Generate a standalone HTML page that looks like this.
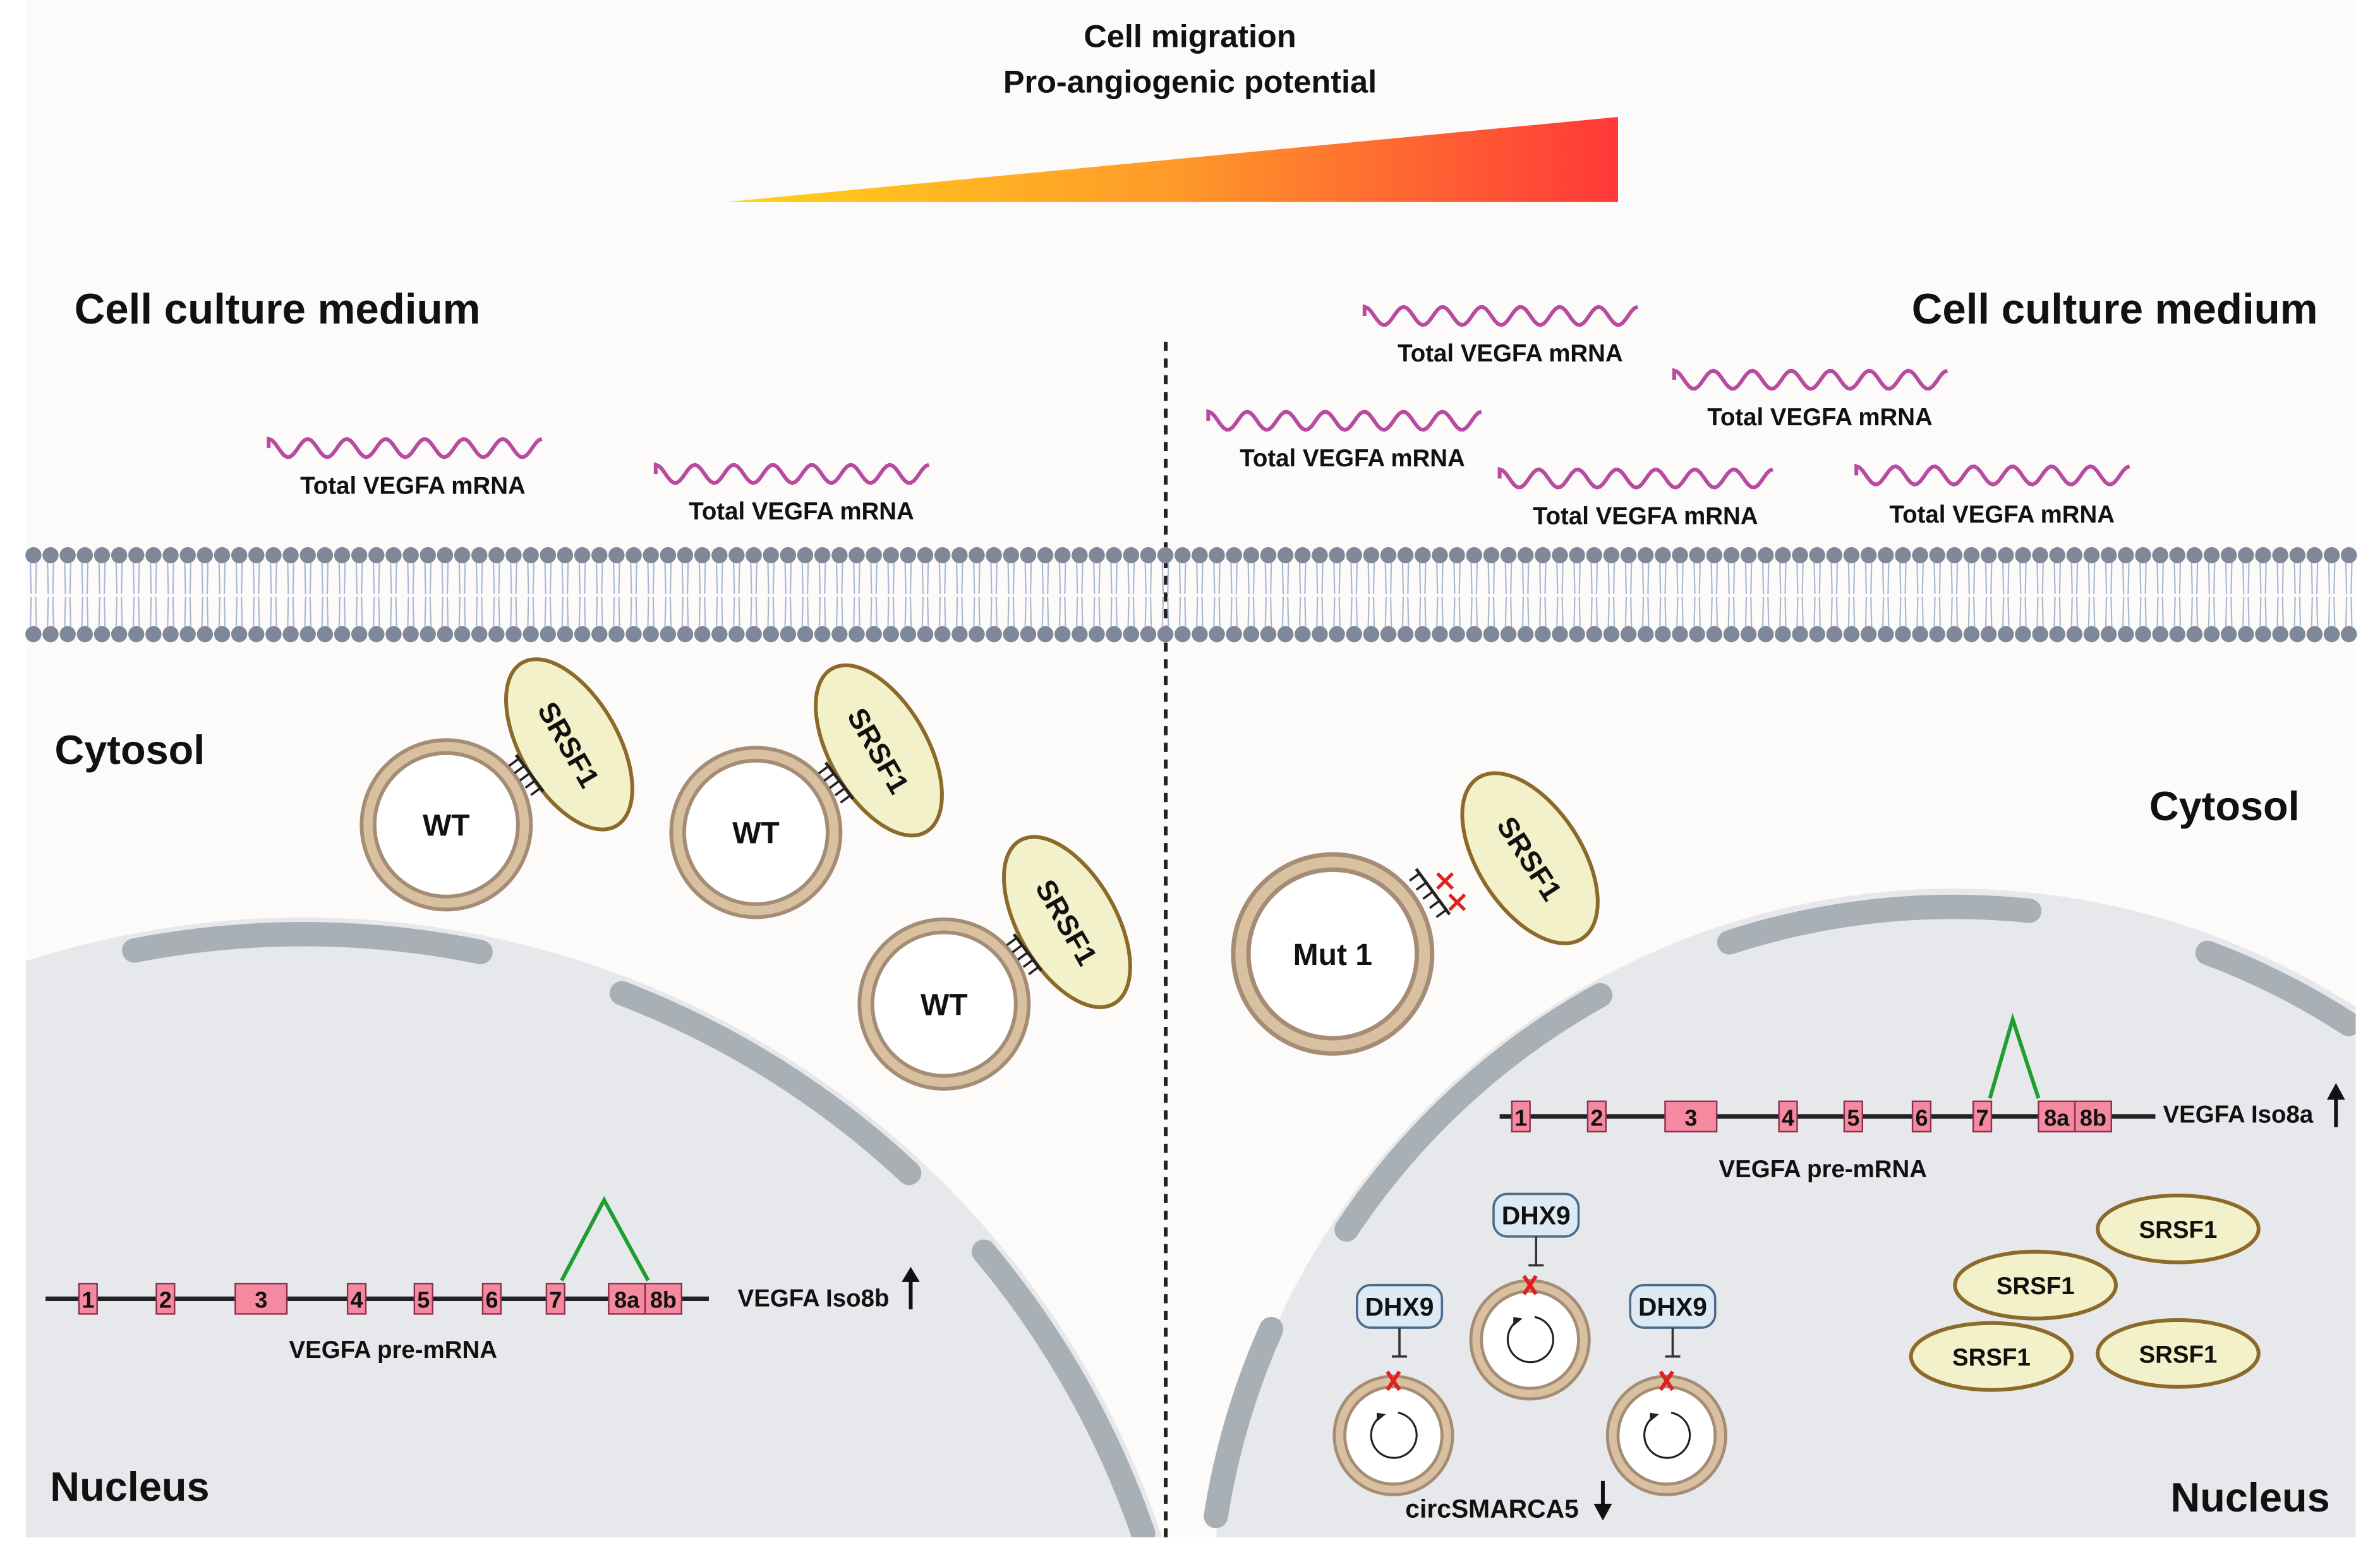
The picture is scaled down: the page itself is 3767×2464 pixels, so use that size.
<!DOCTYPE html>
<html><head><meta charset="utf-8"><style>
html,body{margin:0;padding:0;background:#fff;overflow:hidden;width:3767px;height:2464px;}
svg{display:block;}
text{font-family:"Liberation Sans",sans-serif;font-weight:bold;fill:#111;}
</style></head><body>
<svg id="s" width="3767" height="2464" viewBox="0 0 1568 1025" preserveAspectRatio="none" xmlns="http://www.w3.org/2000/svg">
<defs>
<linearGradient id="g" x1="0" x2="1" y1="0" y2="0"><stop offset="0" stop-color="#ffd21a"/><stop offset="0.5" stop-color="#ff9a2a"/><stop offset="1" stop-color="#ff3838"/></linearGradient>
<clipPath id="cp"><rect x="17" y="0" width="1535" height="1012"/></clipPath>
</defs>
<rect x="17" y="0" width="1535" height="1012" fill="#fcfbfa"/>
<g clip-path="url(#cp)">
<circle cx="200" cy="1200" r="596" fill="#e6e8eb"/>
<circle cx="1287" cy="1075" r="490" fill="#e6e8eb"/>
<g fill="none" stroke="#a8afb5" stroke-width="16" stroke-linecap="round" id="nm"></g>
</g>
<polygon points="478,133 1066,77 1066,133" fill="url(#g)"/>
<text x="784" y="31" font-size="21" text-anchor="middle">Cell migration</text>
<text x="784" y="61" font-size="21" text-anchor="middle">Pro-angiogenic potential</text>
<text x="49" y="213" font-size="28">Cell culture medium</text>
<text x="1527" y="213" font-size="28" text-anchor="end">Cell culture medium</text>
<text x="36" y="503" font-size="27">Cytosol</text>
<text x="1515" y="540" font-size="27" text-anchor="end">Cytosol</text>
<text x="33" y="988" font-size="27">Nucleus</text>
<text x="1535" y="995" font-size="27" text-anchor="end">Nucleus</text>
<line x1="768" y1="225" x2="768" y2="1012" stroke="#222" stroke-width="2.5" stroke-dasharray="6,5"/>
<g id="mem"></g>
<g id="waves"></g>
<line x1="30" y1="855" x2="467" y2="855" stroke="#222" stroke-width="3"/>
<line x1="988" y1="735" x2="1420" y2="735" stroke="#222" stroke-width="3"/>
<g id="dyn"></g>
<polyline points="370,843 398,790 427,843" fill="none" stroke="#1e9e2e" stroke-width="2.5"/>
<polyline points="1311,723 1326,671 1343,723" fill="none" stroke="#1e9e2e" stroke-width="2.5"/>
<text x="486" y="860" font-size="16">VEGFA Iso8b</text>
<text x="259" y="894" font-size="16" text-anchor="middle">VEGFA pre-mRNA</text>
<text x="1425" y="739" font-size="16">VEGFA Iso8a</text>
<text x="1201" y="775" font-size="16" text-anchor="middle">VEGFA pre-mRNA</text>
<line x1="600" y1="862" x2="600" y2="842" stroke="#111" stroke-width="2.5"/><polygon points="594,844 600,834 606,844" fill="#111"/>
<line x1="1539" y1="742" x2="1539" y2="722" stroke="#111" stroke-width="2.5"/><polygon points="1533,724 1539,713 1545,724" fill="#111"/>
<text x="983" y="999" font-size="17" text-anchor="middle">circSMARCA5</text>
<line x1="1056" y1="975" x2="1056" y2="992" stroke="#111" stroke-width="2.5"/><polygon points="1050,990 1056,1001 1062,990" fill="#111"/>
</svg>
<script>
var NS="http://www.w3.org/2000/svg";
function el(p,t,a,txt){var e=document.createElementNS(NS,t);for(var k in a)e.setAttribute(k,a[k]);if(txt)e.textContent=txt;p.appendChild(e);return e;}
var nm=document.getElementById('nm');
function arc(cx,cy,r,a1,a2){var x1=cx+r*Math.cos(a1*Math.PI/180),y1=cy+r*Math.sin(a1*Math.PI/180),x2=cx+r*Math.cos(a2*Math.PI/180),y2=cy+r*Math.sin(a2*Math.PI/180);el(nm,'path',{d:'M'+x1+' '+y1+' A'+r+' '+r+' 0 0 1 '+x2+' '+y2});}
arc(200,1200,585,-101,-78.5);arc(200,1200,585,-69,-47);arc(200,1200,585,-40,-19);
arc(1287,1075,478,-108,-84);arc(1287,1075,478,-69.5,-57);arc(1287,1075,480,-146.4,-119);arc(1287,1075,492,-171,-156);
var m=document.getElementById('mem');
var d='';
for(var x=22;x<1552;x+=11.3){d+='M'+(x-2)+' 369 L'+(x-1.5)+' 391 M'+(x+2)+' 369 L'+(x+1.5)+' 391 M'+(x-1.5)+' 393 L'+(x-2)+' 414 M'+(x+1.5)+' 393 L'+(x+2)+' 414 ';}
el(m,'path',{d:d,stroke:'#a9b8d2','stroke-width':0.9,fill:'none'});
for(var x=22;x<1552;x+=11.3){el(m,'circle',{cx:x,cy:365.5,r:5.3,fill:'#7f8899'});el(m,'circle',{cx:x,cy:417.5,r:5.3,fill:'#7f8899'});}
var w=document.getElementById('waves');
function wave(x0,y,lx,ly){var d='M'+x0+' '+y;for(var i=0;i<=180;i+=2){d+=' L'+(x0+i)+' '+(y-6*Math.sin(i/180*7*2*Math.PI+Math.PI/2));}el(w,'path',{d:d,fill:'none',stroke:'#b84aa0','stroke-width':2.5});el(w,'text',{x:lx,y:ly,'font-size':16,'text-anchor':'middle'},'Total VEGFA mRNA');}
wave(177,295,272,325);wave(432,312,528,342);wave(899,208,995,238);wave(1103,250,1199,280);wave(796,277,891,307);wave(988,315,1084,345);wave(1223,313,1319,344);
var g=document.getElementById('dyn');
function ring(cx,cy,r,bw,label,fs){el(g,'circle',{cx:cx,cy:cy,r:r-bw/2,fill:'#fff',stroke:'#a58d75','stroke-width':bw});el(g,'circle',{cx:cx,cy:cy,r:r-bw/2,fill:'none',stroke:'#d9c0a1','stroke-width':bw*0.55});if(label)el(g,'text',{x:cx,y:cy+fs*0.36,'font-size':fs,'text-anchor':'middle'},label);}
function srsf(cx,cy,rx,ry,rot){var gg=el(g,'g',{transform:'translate('+cx+' '+cy+')'});el(gg,'ellipse',{cx:0,cy:0,rx:rx,ry:ry,transform:'rotate('+rot+')',fill:'#f3f1c9',stroke:'#8b6a2a','stroke-width':2.5});el(gg,'text',{x:0,y:7,'font-size':19,'text-anchor':'middle',transform:'rotate('+(90+rot)+')'},'SRSF1');}
function comb(x1,y1,x2,y2){el(g,'line',{x1:x1,y1:y1,x2:x2,y2:y2,stroke:'#222','stroke-width':2});var n=5;var dx=x2-x1,dy=y2-y1,L=Math.hypot(dx,dy),nx=-dy/L*8,ny=dx/L*8;for(var i=0;i<n;i++){var t=(i+0.5)/n;var px=x1+dx*t,py=y1+dy*t;el(g,'line',{x1:px,y1:py,x2:px+nx,y2:py+ny,stroke:'#222','stroke-width':1.5});}}
ring(294,543,57,11,'WT',20);ring(498,548,57,11,'WT',20);ring(622,661,57,11,'WT',20);ring(878,628,67,13,'Mut 1',20);
srsf(375,490,32,62,-30);srsf(579,494,32,62,-30);srsf(703,607,32,62,-30);srsf(1008,565,34,63,-33);
comb(340,497,358,521);comb(544,502,562,526);comb(668,615,686,639);comb(933,572,955,602);
function rx(x,y,s){el(g,'path',{d:'M'+(x-s)+' '+(y-s)+' L'+(x+s)+' '+(y+s)+' M'+(x+s)+' '+(y-s)+' L'+(x-s)+' '+(y+s),stroke:'#e02020','stroke-width':2.2,fill:'none'});}
rx(952,580,5);rx(960,594,5);
function box(x,y,wd,t){el(g,'rect',{x:x,y:y-10,width:wd,height:20,fill:'#f4899f',stroke:'#8a3050','stroke-width':1});el(g,'text',{x:x+wd/2,y:y+6,'font-size':15,'text-anchor':'middle'},t);}
[[52,12,'1'],[103,12,'2'],[155,34,'3'],[229,12,'4'],[273,12,'5'],[318,12,'6'],[360,12,'7'],[401,24,'8a'],[425,24,'8b']].forEach(function(b){box(b[0],855,b[1],b[2]);});
[[996,12,'1'],[1046,12,'2'],[1097,34,'3'],[1172,12,'4'],[1215,12,'5'],[1260,12,'6'],[1300,12,'7'],[1343,24,'8a'],[1367,24,'8b']].forEach(function(b){box(b[0],735,b[1],b[2]);});
function circ(bx,by,cx,cy){el(g,'rect',{x:bx-28,y:by-14,width:56,height:28,rx:9,fill:'#dde9f4',stroke:'#4d6b8a','stroke-width':1.5});el(g,'text',{x:bx,y:by+6,'font-size':17,'text-anchor':'middle'},'DHX9');
el(g,'line',{x1:bx,y1:by+14,x2:bx,y2:by+33,stroke:'#333','stroke-width':1.5});el(g,'line',{x1:bx-5,y1:by+33,x2:bx+5,y2:by+33,stroke:'#333','stroke-width':1.5});
ring(cx,cy,40,9,null,0);
el(g,'path',{d:'M'+(cx+3)+' '+(cy-15)+' A15 15 0 1 1 '+(cx-9)+' '+(cy-12),fill:'none',stroke:'#222','stroke-width':1.3});
el(g,'polygon',{points:(cx-11)+','+(cy-9)+' '+(cx-5)+','+(cy-14)+' '+(cx-11)+','+(cy-15),fill:'#222'});
el(g,'path',{d:'M'+(cx-4)+' '+(cy-42)+' L'+(cx+4)+' '+(cy-30)+' M'+(cx+4)+' '+(cy-42)+' L'+(cx-4)+' '+(cy-30),stroke:'#e02020','stroke-width':2.5,fill:'none'});}
circ(922,860,918,945);circ(1012,800,1008,882);circ(1102,860,1098,945);
[[1435,809],[1341,846],[1312,893],[1435,891]].forEach(function(p){el(g,'ellipse',{cx:p[0],cy:p[1],rx:53,ry:22,fill:'#f3f1c9',stroke:'#8b6a2a','stroke-width':2.5});el(g,'text',{x:p[0],y:p[1]+6,'font-size':16,'text-anchor':'middle'},'SRSF1');});
</script>
</body></html>
